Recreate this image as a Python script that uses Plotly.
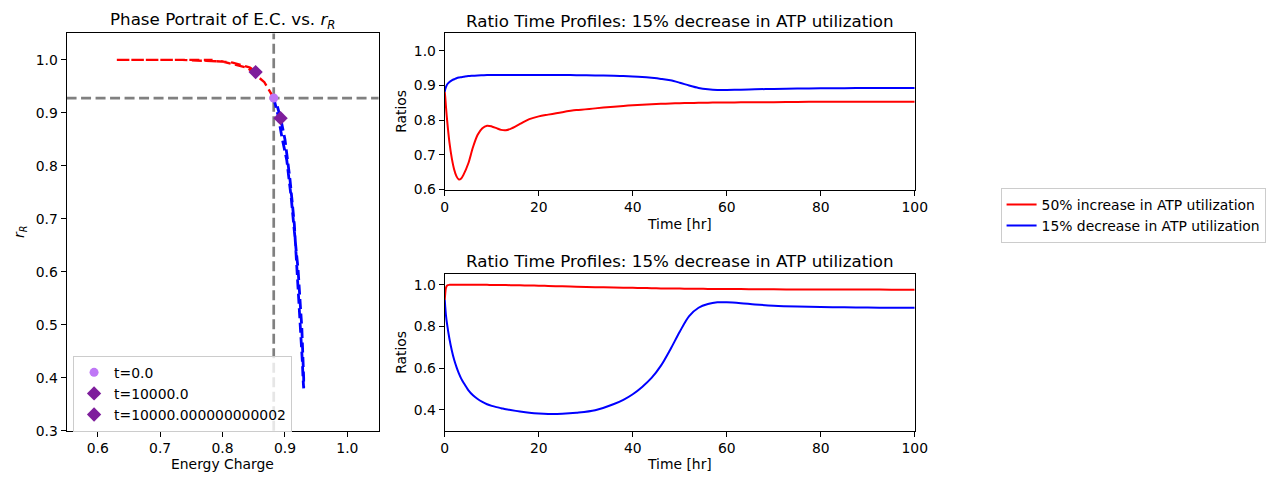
import plotly.graph_objects as go

# ---------------- data ----------------
time_hr = [0, 0.1, 0.25, 0.5, 1, 1.5, 2, 2.5, 3, 3.5, 4, 5, 6, 7, 8, 9, 10, 11, 12, 13, 14,
           16, 18, 20, 22, 25, 28, 32, 36, 38, 40, 42, 44, 46, 48, 50, 52, 54, 56, 58, 60, 63, 66,
           70, 75, 80, 85, 90, 95, 100]

# 50% increase in ATP utilization
ec_inc = [0.882, 0.867, 0.84, 0.80, 0.735, 0.69, 0.658, 0.638, 0.629, 0.632, 0.643, 0.675,
          0.722, 0.758, 0.777, 0.784, 0.782, 0.777, 0.772, 0.771, 0.775, 0.789, 0.803, 0.811,
          0.816, 0.823, 0.829, 0.834, 0.839, 0.841, 0.843, 0.8445, 0.846, 0.847, 0.848, 0.849,
          0.8495, 0.850, 0.8505, 0.851, 0.851, 0.8515, 0.852, 0.852, 0.8525, 0.853, 0.853,
          0.853, 0.853, 0.853]
rr_inc = [0.928, 0.958, 0.985, 0.997, 1.0, 1.0, 1.0, 1.0, 1.0, 1.0, 1.0, 1.0, 1.0, 1.0, 1.0,
          1.0, 0.9995, 0.9995, 0.999, 0.999, 0.9985, 0.998, 0.997, 0.996, 0.995, 0.993, 0.991,
          0.989, 0.987, 0.9865, 0.986, 0.985, 0.984, 0.983, 0.9825, 0.982, 0.9815, 0.981,
          0.9805, 0.980, 0.980, 0.9795, 0.979, 0.9785, 0.978, 0.978, 0.9775, 0.9775, 0.977, 0.977]

# 15% decrease in ATP utilization
ec_dec = [0.882, 0.889, 0.895, 0.903, 0.910, 0.915, 0.918, 0.921, 0.923, 0.924, 0.925, 0.927,
          0.928, 0.929, 0.9295, 0.930, 0.930, 0.930, 0.930, 0.930, 0.930, 0.930, 0.930, 0.930,
          0.930, 0.930, 0.9298, 0.929, 0.928, 0.927, 0.926, 0.9245, 0.922, 0.919, 0.915, 0.908,
          0.900, 0.893, 0.889, 0.887, 0.887, 0.888, 0.889, 0.890, 0.891, 0.892, 0.892, 0.893,
          0.893, 0.893]
rr_dec = [0.928, 0.895, 0.855, 0.81, 0.74, 0.685, 0.64, 0.605, 0.575, 0.55, 0.53, 0.495,
          0.47, 0.452, 0.438, 0.427, 0.419, 0.413, 0.408, 0.403, 0.399, 0.392, 0.386, 0.382,
          0.380, 0.381, 0.386, 0.398, 0.428, 0.448, 0.475, 0.51, 0.553, 0.612, 0.69, 0.775,
          0.85, 0.89, 0.908, 0.916, 0.916, 0.912, 0.906, 0.900, 0.896, 0.894, 0.892, 0.891,
          0.890, 0.890]

ec_ss = 0.882   # steady-state energy charge (gray vertical line)
rr_ss = 0.928   # steady-state r_R (gray horizontal line)

t_labels = ["t=0.0", "t=10000.0", "t=10000.000000000002"]
series_names = ["50% increase in ATP utilization", "15% decrease in ATP utilization"]

# ---------------- figure ----------------
FONT = "DejaVu Sans"
W, H = 1279, 490
RED, BLUE, GRAY = "#ff0000", "#0000ff", "#808080"
LIGHTP, DARKP = "#bf77f6", "#7e1e9c"


def px(x):
    return x / W


def py(y):
    return 1 - y / H


fig = go.Figure()

# phase portrait
fig.add_trace(go.Scatter(x=ec_inc, y=rr_inc, mode="lines", line=dict(color=RED, width=2.4, dash="10px,4.5px"),
                         showlegend=False, xaxis="x", yaxis="y"))
fig.add_trace(go.Scatter(x=ec_dec, y=rr_dec, mode="lines", line=dict(color=BLUE, width=2.8, dash="10px,4.5px"),
                         showlegend=False, xaxis="x", yaxis="y"))
fig.add_trace(go.Scatter(x=[ec_inc[0]], y=[rr_inc[0]], mode="markers", name=t_labels[0],
                         marker=dict(color=LIGHTP, size=9, symbol="circle"), legend="legend", xaxis="x", yaxis="y"))
fig.add_trace(go.Scatter(x=[ec_inc[-1]], y=[rr_inc[-1]], mode="markers", name=t_labels[1],
                         marker=dict(color=DARKP, size=11, symbol="diamond"), legend="legend", xaxis="x", yaxis="y"))
fig.add_trace(go.Scatter(x=[ec_dec[-1]], y=[rr_dec[-1]], mode="markers", name=t_labels[2],
                         marker=dict(color=DARKP, size=11, symbol="diamond"), legend="legend", xaxis="x", yaxis="y"))

# top-right: energy charge time profile
fig.add_trace(go.Scatter(x=time_hr, y=ec_inc, mode="lines", name=series_names[0],
                         line=dict(color=RED, width=2, shape="spline", smoothing=0.9),
                         legend="legend2", xaxis="x2", yaxis="y2"))
fig.add_trace(go.Scatter(x=time_hr, y=ec_dec, mode="lines", name=series_names[1],
                         line=dict(color=BLUE, width=2, shape="spline", smoothing=0.9),
                         legend="legend2", xaxis="x2", yaxis="y2"))
# bottom-right: r_R time profile
fig.add_trace(go.Scatter(x=time_hr, y=rr_inc, mode="lines", line=dict(color=RED, width=2, shape="spline", smoothing=0.9),
                         showlegend=False, xaxis="x3", yaxis="y3"))
fig.add_trace(go.Scatter(x=time_hr, y=rr_dec, mode="lines", line=dict(color=BLUE, width=2, shape="spline", smoothing=0.9),
                         showlegend=False, xaxis="x3", yaxis="y3"))

axis_common = dict(showline=True, mirror=True, linecolor="black", linewidth=1.1, ticks="outside",
                   ticklen=5, tickwidth=1.1, tickcolor="black", showgrid=False, zeroline=False,
                   tickfont=dict(family=FONT, size=13.9, color="black"))

L_x = [px(63.4), px(379.6)]
R_x = [px(446.7), px(923)]
L_y = [py(437.8), py(34)]
T_y = [py(192.7), py(34)]
B_y = [py(437.8), py(279)]

fig.update_layout(
    width=W, height=H, margin=dict(l=0, r=0, t=0, b=0),
    paper_bgcolor="white", plot_bgcolor="white",
    font=dict(family=FONT, size=13.9, color="black"),
    xaxis=dict(domain=L_x, range=[0.55, 1.05], dtick=0.1, tick0=0.6, tickformat=".1f", anchor="y", **axis_common),
    yaxis=dict(domain=L_y, range=[0.3, 1.05], dtick=0.1, tick0=0.3, tickformat=".1f", anchor="x", **axis_common),
    xaxis2=dict(domain=R_x, range=[0, 100], dtick=20, anchor="y2", **axis_common),
    yaxis2=dict(domain=T_y, range=[0.6, 1.05], dtick=0.1, tick0=0.6, tickformat=".1f", anchor="x2", **axis_common),
    xaxis3=dict(domain=R_x, range=[0, 100], dtick=20, anchor="y3", **axis_common),
    yaxis3=dict(domain=B_y, range=[0.3, 1.05], dtick=0.2, tick0=0.4, tickformat=".1f", anchor="x3", **axis_common),
    legend=dict(x=px(70), y=py(439), xanchor="left", yanchor="bottom", bgcolor="rgba(255,255,255,0.8)",
                bordercolor="#cccccc", borderwidth=1, font=dict(family=FONT, size=13.9), tracegroupgap=0),
    legend2=dict(x=px(1010), y=py(191), xanchor="left", yanchor="top", bgcolor="white",
                 bordercolor="#cccccc", borderwidth=1, font=dict(family=FONT, size=13.9), tracegroupgap=0),
    shapes=[
        dict(type="line", xref="x", yref="y domain", x0=ec_ss, x1=ec_ss, y0=0, y1=1,
             line=dict(color=GRAY, width=2.7, dash="10px,4.5px"), layer="below"),
        dict(type="line", xref="x domain", yref="y", x0=0, x1=1, y0=rr_ss, y1=rr_ss,
             line=dict(color=GRAY, width=2.7, dash="10px,4.5px"), layer="below"),
    ],
)

ann = []
def add_text(text, x, y, size=13.9, angle=0):
    ann.append(dict(text=text, x=px(x), y=py(y), xref="paper", yref="paper", showarrow=False,
                    xanchor="center", yanchor="middle", textangle=angle,
                    font=dict(family=FONT, size=size, color="black")))

add_text("Phase Portrait of E.C. vs. <i>r</i><sub><i>R</i></sub>", 221.5, 21, 16.7)
add_text("Ratio Time Profiles: 15% decrease in ATP utilization", 684.8, 21, 16.7)
add_text("Ratio Time Profiles: 15% decrease in ATP utilization", 684.8, 265, 16.7)
add_text("Energy Charge", 221.5, 472)
add_text("Time [hr]", 684.8, 228)
add_text("Time [hr]", 684.8, 472)
add_text("<i>r</i><sub><i>R</i></sub>", 16, 236, angle=-90)
add_text("Ratios", 403, 113, angle=-90)
add_text("Ratios", 403, 358, angle=-90)
fig.update_layout(annotations=ann)

fig.write_html("out.html")
